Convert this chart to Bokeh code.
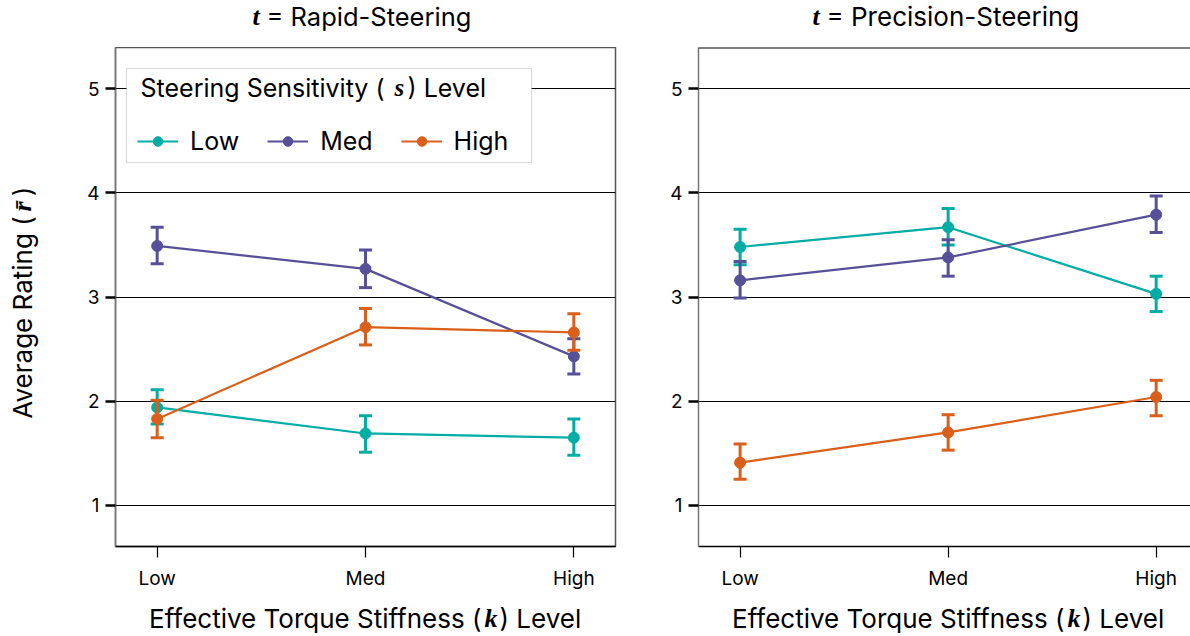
import math
from bokeh.plotting import figure
from bokeh.models import (ColumnDataSource, FixedTicker, Label, Legend, LegendItem,
                          BoxAnnotation, Range1d, Span)
from bokeh.layouts import row, column
from bokeh.embed import file_html
from bokeh.resources import INLINE

# ---------------- data ----------------
k_levels = ["Low", "Med", "High"]          # x categories (effective torque stiffness)
s_levels = ["Low", "Med", "High"]          # series (steering sensitivity)
colors = ["#00ADA5", "#574F97", "#D95F1A"]
y_ticks = [1, 2, 3, 4, 5]
panel_titles = ["Rapid-Steering", "Precision-Steering"]

rapid_low = [1.94, 1.69, 1.65]
rapid_low_lo = [1.78, 1.51, 1.48]
rapid_low_hi = [2.11, 1.86, 1.83]
rapid_med = [3.49, 3.27, 2.43]
rapid_med_lo = [3.32, 3.09, 2.26]
rapid_med_hi = [3.67, 3.45, 2.60]
rapid_high = [1.83, 2.71, 2.66]
rapid_high_lo = [1.65, 2.54, 2.49]
rapid_high_hi = [2.01, 2.89, 2.84]

prec_low = [3.48, 3.67, 3.03]
prec_low_lo = [3.31, 3.50, 2.86]
prec_low_hi = [3.65, 3.85, 3.20]
prec_med = [3.16, 3.38, 3.79]
prec_med_lo = [2.99, 3.20, 3.62]
prec_med_hi = [3.34, 3.55, 3.97]
prec_high = [1.41, 1.70, 2.04]
prec_high_lo = [1.25, 1.53, 1.86]
prec_high_hi = [1.59, 1.87, 2.20]

SANS = "Inter"
MATH = "Liberation Serif"
SH = 10  # baseline correction


def lab(p, x, y, text, font=SANS, size=25, style="normal", align="left", angle=0,
        baseline="alphabetic"):
    p.add_layout(Label(x=x, y=y, x_units="screen", y_units="screen", text=text,
                       text_font=font, text_font_size=f"{size}px", text_font_style=style,
                       text_align=align, text_baseline=baseline, text_color="black",
                       angle=angle, angle_units="rad"))


def text_strip(width, height):
    f = figure(width=width, height=height, output_backend="svg", toolbar_location=None,
               x_axis_type=None, y_axis_type=None, x_range=Range1d(0, 1), y_range=Range1d(0, 1),
               min_border=0, min_border_left=0, min_border_right=0, min_border_top=0,
               min_border_bottom=0, title=None)
    f.outline_line_color = None
    f.background_fill_color = "white"
    f.border_fill_color = "white"
    return f


def make_panel(width, left, right, x_end, means, lows, highs, outline):
    xs = list(range(len(k_levels)))
    p = figure(width=width, height=554, output_backend="svg", toolbar_location=None,
               x_range=Range1d(-0.2, x_end), y_range=Range1d(0.605, 5.395),
               min_border_left=left, min_border_right=right, min_border_top=0,
               min_border_bottom=55, title=None)
    p.background_fill_color = "white"
    p.border_fill_color = "white"
    p.outline_line_color = "#555555" if outline else None
    p.outline_line_width = 1.5
    if not outline:
        p.add_layout(Span(location=5.392, dimension="width", line_color="black", line_width=1.5))
    p.xgrid.grid_line_color = None
    p.ygrid.ticker = FixedTicker(ticks=y_ticks)
    p.ygrid.grid_line_color = "black"
    p.ygrid.grid_line_width = 1.2

    ya = p.yaxis[0]
    ya.ticker = FixedTicker(ticks=y_ticks)
    ya.axis_line_color = "#777777"
    ya.axis_line_width = 1.5
    ya.major_tick_out = 10
    ya.major_tick_in = 0
    ya.major_tick_line_width = 2.5
    ya.major_tick_line_color = "black"
    ya.minor_tick_line_color = None
    ya.major_label_text_font = SANS
    ya.major_label_text_font_size = "19px"
    ya.major_label_text_color = "black"
    ya.major_label_standoff = 6

    xa = p.xaxis[0]
    xa.ticker = FixedTicker(ticks=xs)
    xa.major_label_overrides = {i: k for i, k in zip(xs, k_levels)}
    xa.axis_line_color = "black"
    xa.axis_line_width = 1.5
    xa.major_tick_out = 11
    xa.major_tick_in = 0
    xa.major_tick_line_width = 1.2
    xa.major_tick_line_color = "black"
    xa.minor_tick_line_color = None
    xa.major_label_text_font = SANS
    xa.major_label_text_font_size = "19px"
    xa.major_label_text_color = "black"
    xa.major_label_standoff = 9

    items = []
    for name, color, m, lo, hi in zip(s_levels, colors, means, lows, highs):
        src = ColumnDataSource(dict(x=xs, y=m, lo=lo, hi=hi))
        p.segment(x0="x", y0="lo", x1="x", y1="hi", source=src, line_color=color, line_width=3)
        p.scatter(x="x", y="lo", marker="dash", size=13, line_color=color, line_width=3, source=src)
        p.scatter(x="x", y="hi", marker="dash", size=13, line_color=color, line_width=3, source=src)
        lr = p.line(x="x", y="y", source=src, line_color=color, line_width=2.2)
        cr = p.scatter(x="x", y="y", source=src, size=11, fill_color=color, line_color=color)
        items.append(LegendItem(label=name, renderers=[lr, cr]))
    return p, items


# ---------------- panels ----------------
p1, items = make_panel(600, 65, 35, 2.2,
                       [rapid_low, rapid_med, rapid_high],
                       [rapid_low_lo, rapid_med_lo, rapid_high_lo],
                       [rapid_low_hi, rapid_med_hi, rapid_high_hi], True)

# legend: box + items + mixed-font title (inside the frame)
p1.add_layout(BoxAnnotation(left=11, right=416, top=478, bottom=384,
                            left_units="screen", right_units="screen",
                            top_units="screen", bottom_units="screen",
                            fill_color="white", fill_alpha=1.0,
                            line_color="#888888", line_width=1.2))
legend = Legend(items=items, orientation="horizontal", location=(22, 390),
                background_fill_alpha=0, border_line_color=None,
                glyph_width=41, glyph_height=24, label_height=24, label_standoff=12,
                spacing=28, padding=0, margin=0,
                label_text_font=SANS, label_text_font_size="25px",
                label_text_color="black")
p1.add_layout(legend)
lab(p1, 269, 449 + SH, "Steering Sensitivity (", align="right")
lab(p1, 279, 449 + SH, "s", font=MATH, size=25, style="bold italic")
lab(p1, 292, 449 + SH, ") Level")

p2, _ = make_panel(540, 48, 0, 2.165,
                   [prec_low, prec_med, prec_high],
                   [prec_low_lo, prec_med_lo, prec_high_lo],
                   [prec_low_hi, prec_med_hi, prec_high_hi], False)

# ---------------- text strips ----------------
top = text_strip(1190, 47)
for x0, t, fs in zip([252, 812], panel_titles, [25.5, 26]):
    lab(top, x0, 21 + SH, "t", font=MATH, size=26, style="bold italic")
    lab(top, x0 + 14, 21 + SH, "= " + t, size=fs)

bottom = text_strip(1190, 35)
for dx in [0, 583]:
    lab(bottom, 481 + dx, 8 + SH, "Effective Torque Stiffness (", size=26, align="right")
    lab(bottom, 484 + dx, 8 + SH, "k", font=MATH, size=26, style="bold italic")
    lab(bottom, 499 + dx, 8 + SH, ") Level", size=26)

# rotated y label (its frame is aligned with the panel frame, bottom at page y = 546)
ylab = text_strip(50, 554)
a = math.pi / 2
lab(ylab, 22, 229, "Average Rating (", size=26, align="center", angle=a, baseline="middle")
lab(ylab, 22, 340, "r\u0304", font=MATH, size=26, style="bold italic", align="center",
    angle=a, baseline="middle")
lab(ylab, 22, 355, ")", size=26, align="center", angle=a, baseline="middle")

layout = column(top, row(ylab, p1, p2), bottom)
open("out.html", "w").write(file_html(layout, INLINE))
